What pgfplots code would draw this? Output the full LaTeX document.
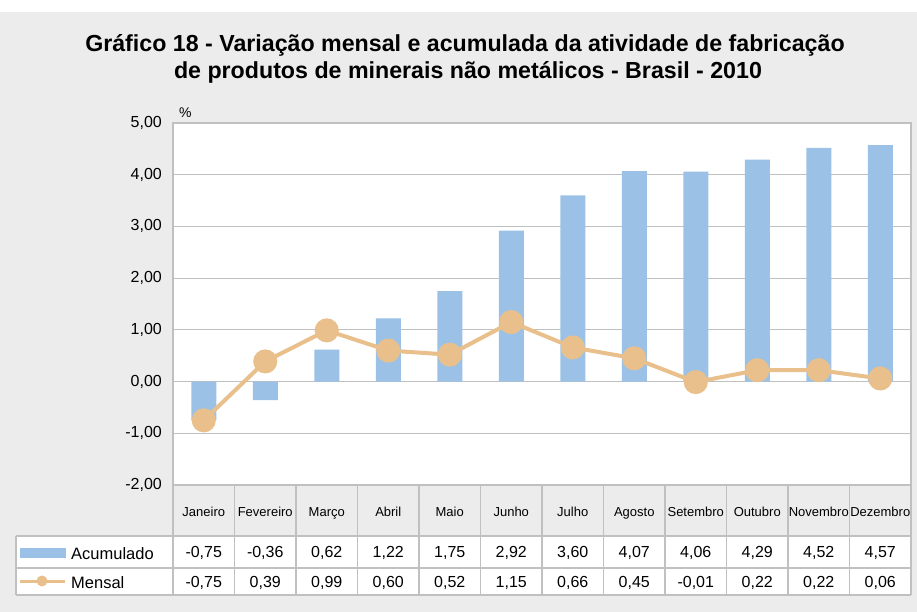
\documentclass[border=0pt]{standalone}
\usepackage{fontspec}
\setmainfont{Liberation Sans}
\usepackage{pgfplots}
\usepackage{pgfplotstable}
\pgfplotsset{compat=1.18}
\definecolor{bg}{RGB}{236,236,236}
\definecolor{barblue}{RGB}{155,194,230}
\definecolor{linetan}{RGB}{233,192,139}
\definecolor{gridgray}{RGB}{192,192,192}

\pgfplotstableread{
x acum mensal
1 -0.75 -0.75
2 -0.36 0.39
3 0.62 0.99
4 1.22 0.60
5 1.75 0.52
6 2.92 1.15
7 3.60 0.66
8 4.07 0.45
9 4.06 -0.01
10 4.29 0.22
11 4.52 0.22
12 4.57 0.06
}\datatable

\begin{document}
\begin{tikzpicture}
\fill[white] (0pt,0pt) rectangle (917pt,-612pt);
\fill[bg] (0pt,-12pt) rectangle (917pt,-612pt);
\fill[white] (16pt,-536pt) rectangle (911pt,-595pt);

\node[anchor=base, inner sep=0pt, font=\bfseries\fontsize{23.2}{27}\selectfont] at (465pt,-52pt) {Gráfico 18 - Variação mensal e acumulada da atividade de fabricação};
\node[anchor=base, inner sep=0pt, font=\bfseries\fontsize{23.2}{27}\selectfont] at (468pt,-79pt) {de produtos de minerais não metálicos - Brasil - 2010};

\begin{axis}[
  at={(173pt,-485pt)}, anchor=south west,
  scale only axis, width=738pt, height=362pt,
  xmin=0.5, xmax=12.5, ymin=-2, ymax=5,
  ytick={-2,-1,0,1,2,3,4,5}, xtick=\empty,
  ymajorgrids, grid style={gridgray, line width=1.2pt},
  axis line style={gridgray, line width=1.2pt},
  major tick length=0pt,
  axis background/.style={fill=white},
  yticklabel style={font=\fontsize{16}{18}\selectfont, inner sep=0pt, xshift=-11pt, text=black,
    /pgf/number format/.cd, fixed, fixed zerofill, precision=2, use comma, assume math mode=true},
]
\addplot[ybar, bar width=25pt, fill=barblue, draw=none] table[x=x,y=acum]{\datatable};
\addplot[linetan, line width=4pt, mark=*, mark size=10pt, mark options={fill=linetan, draw=none}] table[x=x,y=mensal]{\datatable};
\end{axis}

\node[anchor=base west, inner sep=0pt, font=\fontsize{14}{16}\selectfont] at (179pt,-118pt) {\%};

% table lines
\draw[gridgray, line width=1.2pt] (16pt,-536pt) -- (911pt,-536pt);
\draw[gridgray, line width=1.2pt] (16pt,-568pt) -- (911pt,-568pt);
\draw[gridgray, line width=1.2pt] (16pt,-595pt) -- (911pt,-595pt);
\draw[gridgray, line width=1.2pt] (16pt,-536pt) -- (16pt,-595pt);
\foreach \k in {0,...,12} {
  \draw[gridgray, line width=1.2pt] ({(173+61.5*\k)*1pt},-485pt) -- ({(173+61.5*\k)*1pt},-595pt);
}
\foreach \m [count=\i] in {Janeiro,Fevereiro,Março,Abril,Maio,Junho,Julho,Agosto,Setembro,Outubro,Novembro,Dezembro} {
  \node[anchor=base, inner sep=0pt, font=\fontsize{13}{15}\selectfont] at ({(173+61.5*(\i-0.5))*1pt},-516.5pt) {\m};
}
\foreach \v [count=\i] in {{-0,75},{-0,36},{0,62},{1,22},{1,75},{2,92},{3,60},{4,07},{4,06},{4,29},{4,52},{4,57}} {
  \node[anchor=base, inner sep=0pt, font=\fontsize{16}{18}\selectfont] at ({(173+61.5*(\i-0.5))*1pt},-557.5pt) {\v};
}
\foreach \v [count=\i] in {{-0,75},{0,39},{0,99},{0,60},{0,52},{1,15},{0,66},{0,45},{-0,01},{0,22},{0,22},{0,06}} {
  \node[anchor=base, inner sep=0pt, font=\fontsize{16}{18}\selectfont] at ({(173+61.5*(\i-0.5))*1pt},-587pt) {\v};
}
% legend
\fill[barblue] (20pt,-548pt) rectangle (66pt,-558pt);
\node[anchor=base west, inner sep=0pt, font=\fontsize{16.5}{18}\selectfont] at (71pt,-559pt) {Acumulado};
\draw[linetan, line width=3pt] (20pt,-581pt) -- (65pt,-581pt);
\fill[linetan] (42pt,-581pt) circle (5.5pt);
\node[anchor=base west, inner sep=0pt, font=\fontsize{16.5}{18}\selectfont] at (71pt,-588pt) {Mensal};
\end{tikzpicture}
\end{document}
